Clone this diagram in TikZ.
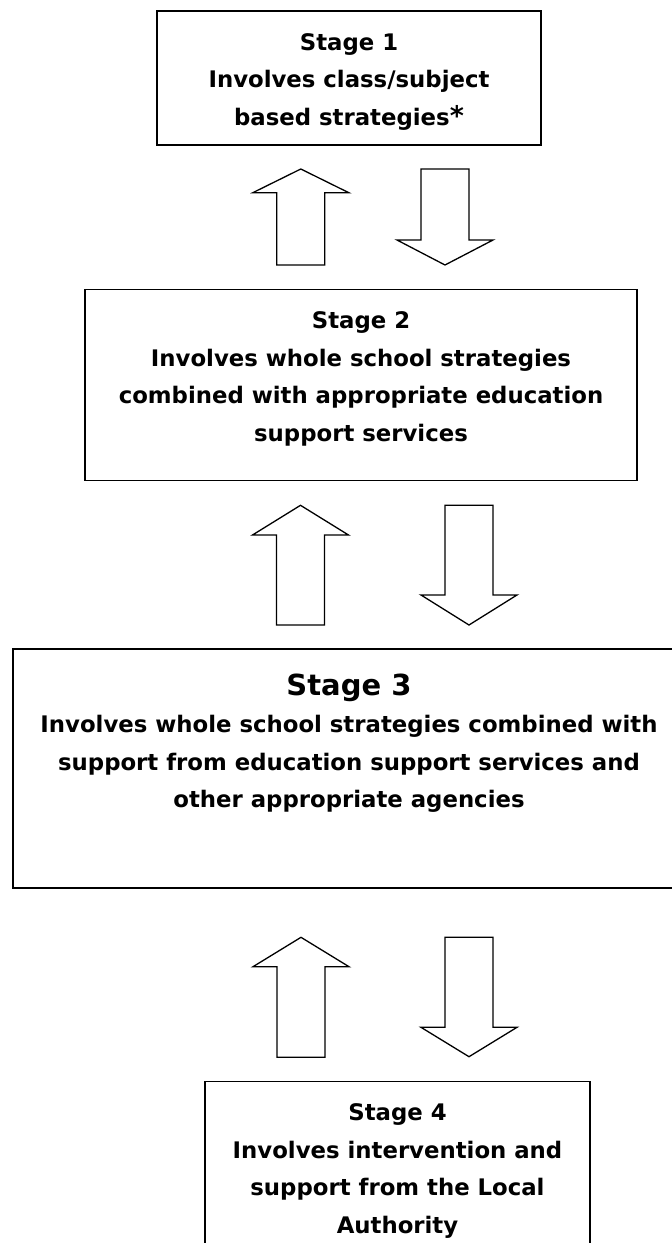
\documentclass[tikz,border=0pt]{standalone}
\usepackage{fontspec}
\setmainfont{DejaVu Sans}
\usetikzlibrary{positioning}

\begin{document}
\begin{tikzpicture}[x=1pt,y=-1pt,
    stagebox/.style={draw, line width=1.8pt, inner sep=0pt},
    stagetext/.style={align=center, inner sep=0pt, font=\bfseries\fontsize{22.8}{37.5}\selectfont},
    blockarrow/.style={draw, line width=1.3pt, line join=miter}]
    \useasboundingbox (0,0) rectangle (672,1243);
    \clip (0,0) rectangle (672,1243);
    % Stage Boxes
    \node[stagebox, minimum width=384pt, minimum height=134pt] (s1) at (349, 78) {};
    \node[stagebox, minimum width=552pt, minimum height=191pt] (s2) at (361, 385) {};
    \node[stagebox, minimum width=672pt, minimum height=239pt] (s3) at (349, 768.8) {};
    \node[stagebox, minimum width=385pt, minimum height=174pt] (s4) at (397.5, 1168.5) {};
    % Stage Texts
    \node[stagetext, below=23pt of s1.north] (t1) {Stage 1\\Involves class/subject\\based strategies{\fontsize{27}{37.5}\selectfont*}};
    \node[stagetext, below=23pt of s2.north] (t2) {Stage 2\\Involves whole school strategies\\combined with appropriate education\\support services};
    \node[stagetext, below=25pt of s3.north] (t3) {{\fontsize{29}{38}\selectfont Stage 3}\\Involves whole school strategies combined with\\support from education support services and\\other appropriate agencies};
    \node[stagetext, below=23pt of s4.north] (t4) {Stage 4\\Involves intervention and\\support from the Local\\Authority};
    %
    % Up and Down Arrows between Stage 1 and Stage 2
    \draw[blockarrow] (300.8,169) -- ++(48,23.7) -- ++(-24,0) -- ++(0,72.3) -- ++(-48,0) -- ++(0,-72.3) -- ++(-24,0) -- cycle;
    \draw[blockarrow] (445,265) -- ++(48,-25) -- ++(-24,0) -- ++(0,-71) -- ++(-48,0) -- ++(0,71) -- ++(-24,0) -- cycle;
    % Up and Down Arrows between Stage 2 and Stage 3
    \draw[blockarrow] (300.5,505.3) -- ++(48,29.7) -- ++(-24,0) -- ++(0,90) -- ++(-48,0) -- ++(0,-90) -- ++(-24,0) -- cycle;
    \draw[blockarrow] (469,625) -- ++(48,-30) -- ++(-24,0) -- ++(0,-89.7) -- ++(-48,0) -- ++(0,89.7) -- ++(-24,0) -- cycle;
    % Up and Down Arrows between Stage 3 and Stage 4
    \draw[blockarrow] (301,937.3) -- ++(48,29.4) -- ++(-24,0) -- ++(0,90.6) -- ++(-48,0) -- ++(0,-90.6) -- ++(-24,0) -- cycle;
    \draw[blockarrow] (469,1056.7) -- ++(48,-29.4) -- ++(-24,0) -- ++(0,-90) -- ++(-48,0) -- ++(0,90) -- ++(-24,0) -- cycle;
\end{tikzpicture}
\end{document}
